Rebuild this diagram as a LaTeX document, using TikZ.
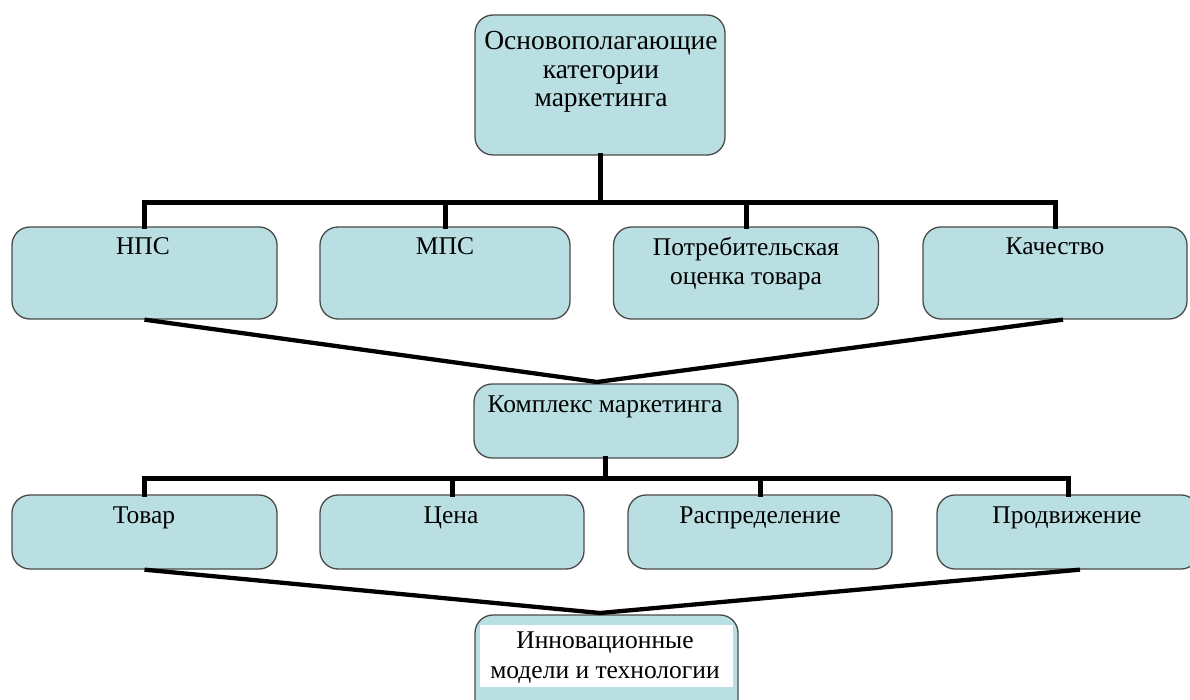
\documentclass[tikz,border=0pt]{standalone}
\usepackage{fontspec}
\setmainfont{Liberation Serif}
\definecolor{boxfill}{HTML}{B9DFE3}
\definecolor{boxline}{HTML}{4A4A4A}
\begin{document}
\begin{tikzpicture}[x=1pt,y=-1pt,
  box/.style={draw=boxline, line width=1.3pt, fill=boxfill, rounded corners=18pt,
              inner sep=0pt, minimum height=#1},
  box/.default=92pt,
  txt/.style={font=\fontsize{25.5}{29.5}\selectfont, align=center, inner sep=0pt, anchor=base},
  bigtxt/.style={txt, font=\fontsize{27.5}{28.5}\selectfont},
  tree/.style={line width=5pt, line cap=rect},
  fan/.style={line width=4.3pt}]
\useasboundingbox (0,0) rectangle (1190,700);
\begin{scope}
\clip (0,0) rectangle (1190,700);

% boxes
\node[box=140pt, minimum width=250pt] (top) at (600,85) {};
\node[box, minimum width=265pt] (npc) at (144.5,273) {};
\node[box, minimum width=250pt] (mpc) at (445,273) {};
\node[box, minimum width=265pt] (cons) at (746,273) {};
\node[box, minimum width=264pt] (qual) at (1055,273) {};
\node[box=74pt, minimum width=264pt] (mix) at (606,421) {};
\node[box=74pt, minimum width=265pt] (prod) at (144.5,532) {};
\node[box=74pt, minimum width=264pt] (price) at (452,532) {};
\node[box=74pt, minimum width=264pt] (place) at (760,532) {};
\node[box=74pt, minimum width=262pt] (promo) at (1068,532) {};
\node[box=110pt, minimum width=263pt] (inno) at (606.5,670) {};
\node[fill=white, inner sep=0pt, minimum width=253pt, minimum height=62pt] (innotext) at (606.5,656) {};

% tree from the top box
\coordinate (bus1) at (600,203);
\draw[tree] (top.south) -- (bus1);
\draw[tree] (npc.north) |- (bus1 -| qual.north) -- (qual.north);
\draw[tree] (mpc.north) -- (mpc.north |- bus1);
\draw[tree] (cons.north) -- (cons.north |- bus1);

% fan into the marketing mix
\coordinate (v1) at (597,382);
\draw[fan] (npc.south) -- (v1) -- ([xshift=8pt]qual.south);

% tree from the marketing mix
\coordinate (bus2) at (605,478);
\draw[tree] (mix.south -| bus2) -- (bus2);
\draw[tree] (prod.north) |- (bus2 -| promo.north) -- (promo.north);
\draw[tree] (price.north) -- (price.north |- bus2);
\draw[tree] (place.north) -- (place.north |- bus2);

% fan into the bottom box
\coordinate (v2) at (600,613);
\draw[fan] (prod.south) -- (v2) -- ([xshift=12pt]promo.south);
\end{scope}

% labels (base anchor = baseline of the last line)
\node[bigtxt] (ttop) at (601,107) {Основополагающие\\категории\\маркетинга};
\node[txt] (tnpc) at (143,255) {НПС};
\node[txt] (tmpc) at (445,255) {МПС};
\node[txt] (tcons) at (746,285) {Потребительская\\оценка товара};
\node[txt] (tqual) at (1055,255) {Качество};
\node[txt] (tmix) at (605,412) {Комплекс маркетинга};
\node[txt] (tprod) at (144,523) {Товар};
\node[txt] (tprice) at (451,523) {Цена};
\node[txt] (tplace) at (760,523) {Распределение};
\node[txt] (tpromo) at (1067,523) {Продвижение};
\node[txt] (tinno) at (605,678) {Инновационные\\модели и технологии};
\end{tikzpicture}
\end{document}
